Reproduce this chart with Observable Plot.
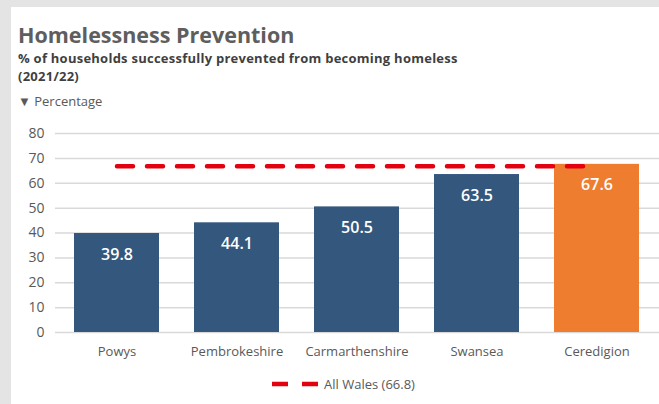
<!DOCTYPE html>
<html>
<head>
<meta charset="utf-8">
<script src="https://cdn.jsdelivr.net/npm/d3@7"></script>
<script src="https://cdn.jsdelivr.net/npm/@observablehq/plot@0.6"></script>
<style>
  html, body { margin: 0; padding: 0; }
  body { width: 659px; height: 404px; background: #e4e4e4; position: relative; overflow: hidden; font-family: "Open Sans", sans-serif; }
  #panel { position: absolute; left: 11px; top: 7px; width: 648px; height: 397px; background: #fff; }
  .abs { position: absolute; white-space: nowrap; }
  #title { left: 18px; top: 24px; font-size: 21.5px; line-height: 21.5px; font-weight: 700; color: #5e5e5e; }
  .sub { left: 18px; font-size: 13px; line-height: 13px; letter-spacing: 0.25px; font-weight: 700; color: #3f3f3f; }
  #sub1 { top: 52px; }
  #sub2 { top: 70px; }
  #unit { left: 18px; top: 94.5px; font-size: 13px; line-height: 13px; color: #595959; }
  #chart { left: 11px; top: 118px; }
  #legend { left: 272px; top: 376px; font-size: 13px; line-height: 16px; color: #595959; display: flex; align-items: center; gap: 6px; }
</style>
</head>
<body>
<div id="panel"></div>
<div id="title" class="abs">Homelessness Prevention</div>
<div id="sub1" class="abs sub">% of households successfully prevented from becoming homeless</div>
<div id="sub2" class="abs sub">(2021/22)</div>
<div id="unit" class="abs">▼ Percentage</div>
<div id="chart" class="abs"></div>
<div id="legend" class="abs"><svg width="46" height="8"><line x1="0" y1="4" x2="46" y2="4" stroke="#e3000f" stroke-width="4.5" stroke-dasharray="16,14"></line></svg><span>All Wales (66.8)</span></div>
<script>
const categories = ["Powys", "Pembrokeshire", "Carmarthenshire", "Swansea", "Ceredigion"];
const values = [39.8, 44.1, 50.5, 63.5, 67.6];
const highlight = "Ceredigion";
const walesAverage = 66.8;
const yTicks = [0, 10, 20, 30, 40, 50, 60, 70, 80];

const navy = "#34577e";
const orange = "#ee7d2f";
const red = "#e3000f";

const data = categories.map((c, i) => ({area: c, value: values[i], group: c === highlight ? "highlight" : "other"}));

const chart = Plot.plot({
  width: 648,
  height: 242,
  marginLeft: 44,
  marginRight: 0,
  marginTop: 15,
  marginBottom: 28,
  style: {fontFamily: "Open Sans", fontSize: "14px", color: "#595959", background: "transparent"},
  x: {domain: categories, paddingInner: 0.29, paddingOuter: 0.145, label: null},
  y: {domain: [0, 80], label: null},
  color: {domain: ["other", "highlight"], range: [navy, orange]},
  marks: [
    Plot.gridY(yTicks, {stroke: "#d9d9d9", strokeOpacity: 1, strokeWidth: 1.5}),
    Plot.barY(data, {x: "area", y: "value", fill: "group"}),
    Plot.text(data, {x: "area", y: "value", text: d => d.value.toFixed(1), dy: 21, fill: "white", fontWeight: 600, fontSize: 16}),
    Plot.lineY(categories, {x: d => d, y: () => walesAverage, stroke: red, strokeWidth: 4.5, strokeDasharray: "16,14"}),
    Plot.axisY({ticks: yTicks, tickSize: 0, tickPadding: 11, label: null, fontSize: 14}),
    Plot.axisX({tickSize: 0, tickPadding: 14, label: null, fontSize: 13})
  ]
});
document.getElementById("chart").appendChild(chart);
</script>
</body>
</html>
